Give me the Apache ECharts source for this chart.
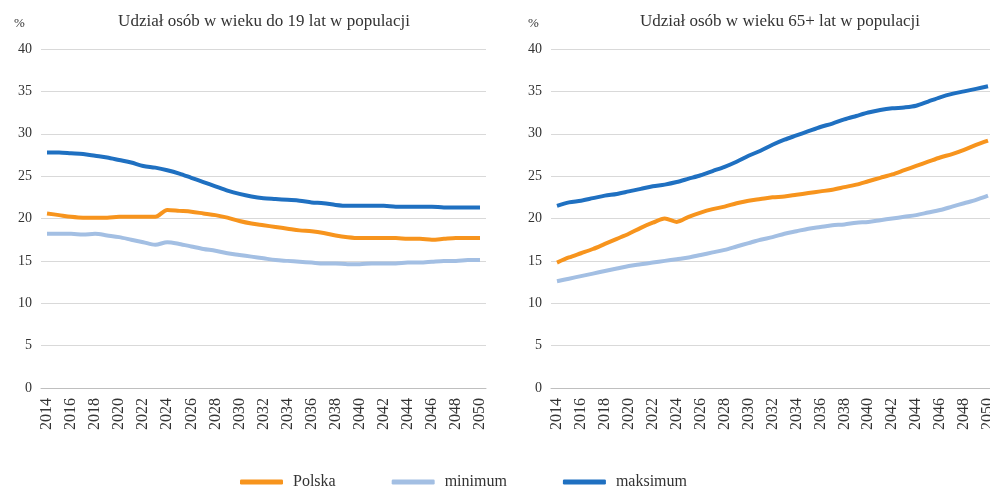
<!DOCTYPE html>
<html>
<head>
<meta charset="utf-8">
<script src="https://cdn.jsdelivr.net/npm/echarts@6/dist/echarts.min.js"></script>
<style>
  html, body { margin: 0; padding: 0; background: #fff; }
  #chart { width: 990px; height: 490px; }
</style>
</head>
<body>
<div id="chart"></div>
<script>
// lata 2014-2050
const years = [];
for (let y = 2014; y <= 2050; y++) years.push(String(y));

// udział osób w wieku do 19 lat (%)
const youngPolska = [20.6, 20.4, 20.2, 20.1, 20.1, 20.1, 20.2, 20.2, 20.2, 20.2, 21.0, 20.9, 20.8, 20.6, 20.4, 20.1, 19.7, 19.4, 19.2, 19.0, 18.8, 18.6, 18.5, 18.3, 18.0, 17.8, 17.7, 17.7, 17.7, 17.7, 17.6, 17.6, 17.5, 17.6, 17.7, 17.7, 17.7];
const youngMin = [18.2, 18.2, 18.2, 18.1, 18.2, 18.0, 17.8, 17.5, 17.2, 16.9, 17.2, 17.0, 16.7, 16.4, 16.2, 15.9, 15.7, 15.5, 15.3, 15.1, 15.0, 14.9, 14.8, 14.7, 14.7, 14.6, 14.6, 14.7, 14.7, 14.7, 14.8, 14.8, 14.9, 15.0, 15.0, 15.1, 15.1];
const youngMax = [27.8, 27.8, 27.7, 27.6, 27.4, 27.2, 26.9, 26.6, 26.2, 26.0, 25.7, 25.3, 24.8, 24.3, 23.8, 23.3, 22.9, 22.6, 22.4, 22.3, 22.2, 22.1, 21.9, 21.8, 21.6, 21.5, 21.5, 21.5, 21.5, 21.4, 21.4, 21.4, 21.4, 21.3, 21.3, 21.3, 21.3];

// udział osób w wieku 65+ (%)
const oldPolska = [14.8, 15.4, 15.9, 16.4, 17.0, 17.6, 18.2, 18.9, 19.5, 20.0, 19.6, 20.2, 20.7, 21.1, 21.4, 21.8, 22.1, 22.3, 22.5, 22.6, 22.8, 23.0, 23.2, 23.4, 23.7, 24.0, 24.4, 24.8, 25.2, 25.7, 26.2, 26.7, 27.2, 27.6, 28.1, 28.7, 29.2];
const oldMin = [12.6, 12.9, 13.2, 13.5, 13.8, 14.1, 14.4, 14.6, 14.8, 15.0, 15.2, 15.4, 15.7, 16.0, 16.3, 16.7, 17.1, 17.5, 17.8, 18.2, 18.5, 18.8, 19.0, 19.2, 19.3, 19.5, 19.6, 19.8, 20.0, 20.2, 20.4, 20.7, 21.0, 21.4, 21.8, 22.2, 22.7];
const oldMax = [21.5, 21.9, 22.1, 22.4, 22.7, 22.9, 23.2, 23.5, 23.8, 24.0, 24.3, 24.7, 25.1, 25.6, 26.1, 26.7, 27.4, 28.0, 28.7, 29.3, 29.8, 30.3, 30.8, 31.2, 31.7, 32.1, 32.5, 32.8, 33.0, 33.1, 33.3, 33.8, 34.3, 34.7, 35.0, 35.3, 35.6];

const FONT = '"Liberation Serif", "DejaVu Serif", serif';
const colors = {Polska: '#F7941D', minimum: '#A3BFE3', maksimum: '#1F70C1'};

const xAxisBase = {
    type: 'category',
    data: years,
    boundaryGap: true,
    axisTick: {show: false},
    axisLine: {lineStyle: {color: '#bfbfbf', width: 1}},
    axisLabel: {interval: 1, rotate: 90, color: '#333', fontFamily: FONT, fontSize: 16, margin: 10}
};
const yAxisBase = {
    type: 'value',
    min: 0, max: 40, interval: 5,
    axisLine: {show: false},
    axisTick: {show: false},
    axisLabel: {color: '#333', fontFamily: FONT, fontSize: 14, margin: 9},
    splitLine: {lineStyle: {color: '#d9d9d9', width: 1}}
};

function line(name, data, idx) {
    return {
        name: name,
        type: 'line',
        xAxisIndex: idx,
        yAxisIndex: idx,
        data: data,
        smooth: 0.3,
        symbol: 'none',
        lineStyle: {width: 4, color: colors[name]},
        itemStyle: {color: colors[name]}
    };
}

const option = {
    animation: false,
    backgroundColor: '#fff',
    title: [
        {text: 'Udział osób w wieku do 19 lat w populacji', left: 259, top: 8, textAlign: 'center',
            textStyle: {fontFamily: FONT, fontSize: 17, fontWeight: 'normal', color: '#333'}},
        {text: 'Udział osób w wieku 65+ lat w populacji', left: 775, top: 8, textAlign: 'center',
            textStyle: {fontFamily: FONT, fontSize: 17, fontWeight: 'normal', color: '#333'}},
        {text: '%', left: 9, top: 12, textStyle: {fontFamily: FONT, fontSize: 13, fontWeight: 'normal', color: '#333'}},
        {text: '%', left: 523, top: 12, textStyle: {fontFamily: FONT, fontSize: 13, fontWeight: 'normal', color: '#333'}}
    ],
    legend: {
        left: 235,
        top: 469,
        itemWidth: 43,
        itemHeight: 5,
        itemGap: 56,
        icon: 'roundRect',
        textStyle: {fontFamily: FONT, fontSize: 16, color: '#333', padding: [0, 0, 0, 5]},
        data: ['Polska', 'minimum', 'maksimum']
    },
    grid: [
        {left: 41, top: 49, width: 445, bottom: 102, outerBoundsMode: 'none'},
        {left: 551, top: 49, width: 443, bottom: 102, outerBoundsMode: 'none'}
    ],
    xAxis: [
        Object.assign({gridIndex: 0}, xAxisBase),
        Object.assign({gridIndex: 1}, xAxisBase)
    ],
    yAxis: [
        Object.assign({gridIndex: 0}, yAxisBase),
        Object.assign({gridIndex: 1}, yAxisBase)
    ],
    series: [
        line('Polska', youngPolska, 0),
        line('minimum', youngMin, 0),
        line('maksimum', youngMax, 0),
        line('Polska', oldPolska, 1),
        line('minimum', oldMin, 1),
        line('maksimum', oldMax, 1)
    ]
};

const chart = echarts.init(document.getElementById('chart'));
chart.setOption(option);
</script>
</body>
</html>
